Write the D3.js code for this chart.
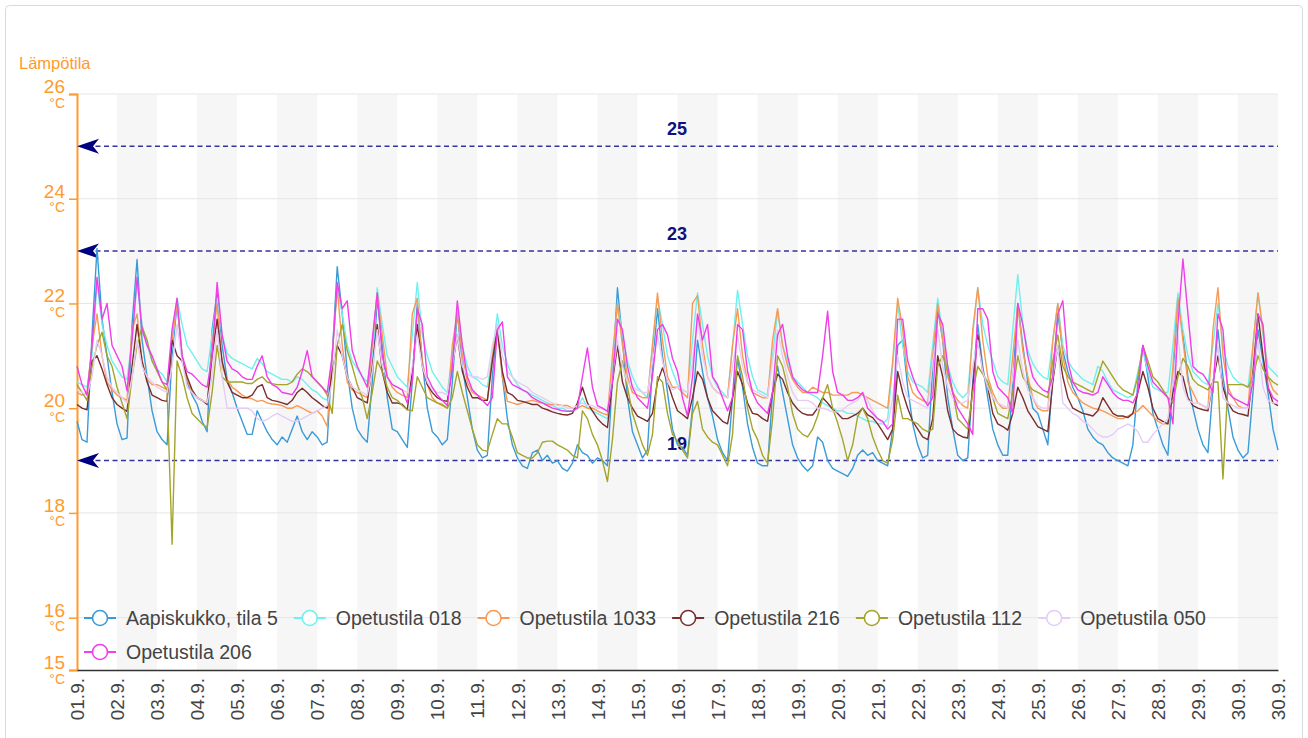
<!DOCTYPE html>
<html><head><meta charset="utf-8">
<script src="https://cdn.jsdelivr.net/npm/d3@7"></script>
<style>
body{margin:0;background:#fff;}
svg{display:block;font-family:"Liberation Sans",Arial,sans-serif;}
</style>
</head><body>
<svg id="chart" width="1308" height="738"></svg>
<script>
// ---------------- data ----------------
const yAxisTitle = "Lämpötila";
const unit = "°C";
const yTicks = [26, 24, 22, 20, 18, 16, 15];
const xTickLabels = ["01.9.","02.9.","03.9.","04.9.","05.9.","06.9.","07.9.","08.9.","09.9.","10.9.",
  "11.9.","12.9.","13.9.","14.9.","15.9.","16.9.","17.9.","18.9.","19.9.","20.9.",
  "21.9.","22.9.","23.9.","24.9.","25.9.","26.9.","27.9.","28.9.","29.9.","30.9.","30.9."];
const refLines = [25, 23, 19];
const seriesNames = ["Aapiskukko, tila 5","Opetustila 018","Opetustila 1033","Opetustila 216","Opetustila 112","Opetustila 050","Opetustila 206"];
const seriesColors = ["#3A9BD8","#6FF0EE","#F79A55","#7A2E2E","#A3A52B","#E5CCF5","#F03EEA"];
const stepHours = 3; // one value every 3 hours, from 01.09. 00:00

const aapiskukko = [
19.75,19.4,19.35,21.4,23.05,21.7,21.0,20.3, 19.7,19.4,19.43,21.6,22.84,21.3,20.6,19.95,
19.55,19.4,19.3,21.0,22.0,21.0,20.5,20.25, 20.07,19.75,19.55,21.5,22.2,21.2,20.55,20.3,
20.0,19.75,19.5,19.5,19.95,19.75,19.55,19.4, 19.3,19.45,19.35,19.6,19.85,19.55,19.4,19.55,
19.45,19.3,19.35,21.0,22.7,21.8,20.7,20.0, 19.6,19.45,19.35,20.5,22.1,21.2,20.2,19.6,
19.55,19.4,19.25,20.5,22.0,20.9,20.0,19.55, 19.45,19.3,19.4,20.5,21.85,20.8,20.2,19.6,
19.2,19.05,19.1,20.6,21.6,20.6,19.8,19.3, 19.05,18.9,18.85,19.15,19.2,19.0,19.1,18.95,
19.0,18.85,18.8,18.95,19.3,19.15,19.1,18.95, 19.05,19.0,18.9,20.6,22.3,21.3,20.2,19.55,
19.3,19.05,19.2,20.8,21.9,21.0,20.3,19.6, 19.3,19.25,19.1,20.0,21.3,20.7,20.2,19.85,
19.4,19.15,19.0,20.2,20.95,20.4,19.7,19.25, 18.95,18.9,18.9,20.3,20.8,20.3,19.8,19.3,
19.05,18.9,18.8,18.9,19.45,19.35,19.0,18.85, 18.8,18.75,18.7,18.85,19.1,19.2,19.1,19.15,
19.0,18.95,18.9,19.6,21.2,21.3,20.4,19.7, 19.3,19.05,19.1,20.8,21.9,21.3,20.2,19.6,
19.1,19.0,19.05,20.5,21.6,20.8,20.2,19.6, 19.3,19.1,19.1,20.5,22.0,21.2,20.5,20.0,
19.9,19.6,19.3,20.6,21.8,21.1,20.7,20.4, 20.2,19.95,19.6,19.45,19.35,19.3,19.15,19.05,
19.0,18.95,18.9,19.3,20.5,21.2,20.6,19.9, 19.6,19.3,19.1,20.5,22.15,21.4,20.6,20.0,
19.6,19.3,19.15,20.4,21.5,20.6,20.0,19.45, 19.2,19.05,19.15,20.3,21.5,20.9,20.3,19.6,
19.2];
const opetustila018 = [
20.5,20.45,20.4,21.0,22.4,21.6,21.2,20.9, 20.75,20.6,20.55,21.3,22.4,21.6,21.2,20.9,
20.75,20.65,20.5,21.2,22.1,21.6,21.2,21.05, 20.9,20.75,20.7,21.4,22.1,21.4,21.05,20.95,
20.9,20.85,20.8,20.75,20.95,20.85,20.7,20.65, 20.6,20.55,20.55,20.5,20.6,20.55,20.45,20.35,
20.3,20.2,20.15,21.0,22.3,21.8,21.2,20.9, 20.75,20.6,20.5,21.0,22.3,21.6,21.0,20.8,
20.6,20.5,20.4,21.4,22.4,21.4,21.0,20.7, 20.55,20.4,20.3,21.0,21.85,21.2,20.8,20.6,
20.55,20.45,20.4,21.0,21.8,21.2,20.85,20.6, 20.45,20.35,20.3,20.25,20.2,20.15,20.1,20.05,
20.0,20.0,19.95,19.95,20.0,20.2,20.0,19.95, 19.9,19.85,19.8,20.8,22.0,21.4,20.9,20.6,
20.4,20.3,20.2,21.2,22.1,21.6,21.0,20.7, 20.45,20.35,20.3,21.3,22.2,21.6,21.0,20.6,
20.4,20.3,20.2,21.2,22.25,21.6,21.0,20.6, 20.35,20.3,20.25,21.0,21.85,21.2,20.9,20.6,
20.5,20.4,20.3,20.25,20.2,20.1,20.05,20.0, 19.95,19.95,19.9,19.9,19.85,19.8,19.75,19.75,
19.7,19.7,19.8,20.8,22.0,21.2,20.7,20.5, 20.45,20.4,20.3,21.2,22.1,21.4,20.8,20.5,
20.3,20.2,20.3,21.4,22.3,21.6,21.2,20.9, 20.6,20.5,20.45,21.5,22.55,21.6,21.1,20.85,
20.7,20.6,20.55,21.3,22.0,21.2,20.9,20.75, 20.65,20.55,20.5,20.45,20.8,20.7,20.5,20.35,
20.3,20.25,20.2,20.25,20.7,21.1,20.7,20.4, 20.35,20.3,20.3,21.2,22.2,21.5,21.0,20.7,
20.6,20.5,20.45,21.2,22.0,21.2,20.8,20.6, 20.5,20.45,20.4,21.2,22.2,21.4,20.8,20.7,
20.6];
const opetustila1033 = [
20.3,20.25,20.3,21.2,21.8,21.0,20.5,20.35, 20.25,20.2,20.15,21.5,21.8,20.9,20.55,20.45,
20.45,20.4,20.35,21.3,22.0,21.0,20.55,20.3, 20.2,20.15,20.1,21.2,22.0,20.8,20.55,20.4,
20.33,20.25,20.2,20.18,20.13,20.15,20.1,20.08, 20.07,20.05,20.0,20.0,20.05,20.0,19.95,19.9,
19.95,19.85,19.65,21.0,22.3,21.2,20.5,20.35, 20.3,20.25,20.2,21.2,22.2,21.4,20.6,20.4,
20.3,20.25,20.2,21.8,22.1,20.9,20.45,20.2, 20.1,20.05,20.0,21.2,21.8,21.0,20.5,20.3,
20.25,20.2,20.15,21.0,21.5,20.6,20.13,20.1, 20.07,20.1,20.13,20.15,20.12,20.1,20.07,20.07,
20.07,20.05,20.05,20.0,20.0,20.05,20.0,20.0, 19.95,19.9,19.87,21.0,22.0,21.2,20.6,20.3,
20.25,20.2,20.2,21.2,22.2,21.3,20.6,20.4, 20.4,20.3,20.2,22.0,22.15,21.2,20.6,20.4,
20.3,20.25,20.2,21.2,21.9,21.0,20.5,20.3, 20.25,20.2,20.2,21.3,21.9,21.2,20.8,20.55,
20.4,20.3,20.3,20.4,20.35,20.3,20.3,20.25, 20.25,20.25,20.25,20.3,20.3,20.25,20.2,20.15,
20.1,20.05,20.0,20.9,22.1,21.5,20.6,20.3, 20.2,20.15,20.1,21.0,22.0,21.3,20.6,20.3,
20.15,20.05,20.0,21.5,22.3,21.3,20.6,20.3, 20.1,20.0,20.0,21.0,22.0,21.1,20.6,20.2,
20.0,19.95,19.95,21.3,22.0,21.0,20.5,20.3, 20.2,20.1,20.05,20.0,19.98,19.95,19.9,19.85,
19.8,19.8,19.85,19.9,19.95,20.05,19.95,19.85, 19.75,19.7,19.7,20.8,22.1,21.3,20.5,20.3,
20.1,20.05,20.0,21.5,22.3,21.0,20.4,20.2, 20.05,20.0,20.0,21.2,22.2,21.5,20.6,20.35,
20.25];
const opetustila216 = [
20.07,20.0,19.97,20.9,21.0,20.75,20.45,20.2, 20.07,20.0,19.94,20.8,21.6,20.9,20.5,20.25,
20.2,20.15,20.13,21.3,21.0,20.9,20.6,20.35, 20.2,20.15,20.07,21.0,21.7,20.9,20.5,20.3,
20.25,20.2,20.2,20.25,20.4,20.45,20.2,20.15, 20.13,20.1,20.07,20.15,20.3,20.38,20.3,20.2,
20.13,20.05,20.0,20.7,21.2,21.0,20.6,20.4, 20.2,20.15,20.1,20.8,21.6,20.7,20.3,20.1,
20.1,20.07,19.97,20.7,21.6,20.8,20.45,20.3, 20.2,20.15,20.13,20.8,21.4,20.7,20.4,20.2,
20.2,20.15,20.15,20.9,21.5,20.7,20.3,20.25, 20.15,20.13,20.1,20.07,20.07,20.0,19.97,19.93,
19.9,19.88,19.87,19.9,20.1,20.4,20.1,19.95, 19.8,19.7,19.63,20.5,21.2,20.5,20.2,20.0,
19.85,19.8,19.75,19.9,20.5,20.77,20.5,20.2, 19.95,19.88,19.8,20.2,20.7,20.55,20.2,19.95,
19.85,19.75,19.7,20.2,20.7,20.45,20.1,19.9, 19.88,19.8,19.75,20.3,20.65,20.55,20.3,20.1,
19.98,19.9,19.87,19.87,20.0,20.2,20.1,19.98, 19.9,19.8,19.8,19.85,19.9,20.0,19.87,19.82,
19.7,19.55,19.4,19.6,20.7,20.3,20.0,19.75, 19.6,19.45,19.4,19.8,21.0,20.6,19.95,19.6,
19.5,19.45,19.43,20.4,21.4,20.7,20.4,19.9, 19.7,19.65,19.58,19.9,20.4,20.2,19.95,19.8,
19.65,19.6,19.55,20.5,21.2,20.6,20.2,20.0, 19.95,19.9,19.88,19.85,19.95,20.2,20.05,19.9,
19.85,19.85,19.82,19.9,20.3,20.7,20.4,20.0, 19.8,19.75,19.7,20.3,20.7,20.6,20.2,20.05,
20.0,19.97,19.95,20.5,21.0,20.4,20.1,19.95, 19.9,19.88,19.85,20.7,21.8,21.0,20.4,20.1,
20.05];
const opetustila112 = [
20.45,20.3,20.15,20.8,21.2,21.45,21.0,20.8, 20.4,20.1,19.8,20.6,21.2,21.55,21.3,20.9,
20.7,20.5,20.35,17.4,20.9,20.6,20.2,19.9, 19.8,19.7,19.63,20.3,21.2,20.6,20.5,20.5,
20.5,20.5,20.47,20.47,20.55,20.6,20.5,20.47, 20.45,20.45,20.45,20.5,20.65,20.75,20.7,20.6,
20.5,20.4,20.25,19.9,21.2,21.6,21.1,20.8, 20.45,20.2,19.8,20.3,20.9,20.7,20.4,20.2,
20.15,20.05,19.97,19.95,20.6,20.4,20.2,20.15, 20.1,20.07,20.0,20.2,20.7,20.3,19.95,19.6,
19.3,19.2,19.18,19.5,19.8,19.7,19.7,19.45, 19.15,19.1,19.05,19.05,19.15,19.35,19.37,19.37,
19.3,19.25,19.2,19.1,19.05,19.95,19.8,19.5, 19.3,19.0,18.6,19.4,20.5,20.9,20.4,19.9,
19.6,19.3,19.1,19.5,20.6,20.5,19.9,19.5, 19.37,19.2,19.05,19.9,20.13,19.6,19.45,19.35,
19.3,19.1,18.9,19.5,21.0,20.6,20.0,19.6, 19.4,19.1,18.95,19.8,21.0,20.8,20.4,19.9,
19.6,19.5,19.45,19.6,19.85,20.2,20.45,20.0, 19.72,19.4,19.0,19.3,19.84,20.0,19.8,19.45,
19.2,19.0,18.95,19.4,20.25,19.8,19.8,19.75, 19.7,19.6,19.55,19.6,20.8,21.0,20.7,20.3,
19.8,19.7,19.6,20.3,20.8,20.65,20.5,20.2, 19.9,19.85,19.8,20.3,21.0,20.6,20.45,20.35,
20.3,20.25,20.2,20.9,21.4,20.8,20.6,20.5, 20.45,20.4,20.35,20.3,20.6,20.9,20.75,20.6,
20.45,20.35,20.3,20.25,20.6,21.2,20.9,20.6, 20.5,20.35,20.2,20.1,20.6,20.95,20.8,20.55,
20.45,20.4,20.35,20.5,20.5,18.65,20.45,20.45, 20.45,20.45,20.4,20.6,21.0,20.75,20.6,20.5,
20.44];
const opetustila050 = [
20.35,20.3,20.25,20.6,21.3,21.0,20.6,20.4, 20.3,20.2,20.1,20.6,21.3,20.8,20.6,20.5,
20.4,20.35,20.3,20.8,21.6,20.9,20.4,20.3, 20.2,20.15,20.1,20.6,21.5,20.6,20.0,20.0,
20.0,20.0,20.0,19.95,19.8,19.75,19.78,19.85, 19.9,19.85,19.8,19.75,19.75,19.8,19.85,19.9,
19.95,20.0,20.05,20.5,21.5,21.0,20.6,20.4, 20.35,20.3,20.25,20.7,21.5,20.8,20.6,20.45,
20.4,20.35,20.3,20.8,21.4,20.8,20.5,20.35, 20.3,20.3,20.25,20.8,21.4,20.8,20.65,20.6,
20.6,20.55,20.6,21.2,21.6,21.0,20.7,20.6, 20.5,20.45,20.4,20.3,20.25,20.2,20.15,20.1,
20.05,20.05,20.0,20.0,20.05,20.1,20.05,20.05, 20.0,20.0,19.95,20.6,21.3,20.8,20.5,20.4,
20.35,20.3,20.3,20.9,21.4,20.9,20.5,20.35, 20.4,20.35,20.3,20.9,21.7,21.0,20.6,20.4,
20.3,20.25,20.2,20.8,21.4,20.8,20.5,20.35, 20.3,20.25,20.2,20.9,21.5,21.0,20.6,20.3,
20.15,20.15,20.15,20.1,20.0,20.0,19.97,19.93, 19.93,19.97,20.05,20.1,20.15,20.3,20.15,19.95,
19.8,19.7,19.65,20.2,21.0,20.5,20.2,20.15, 20.1,20.05,20.0,20.9,21.5,20.8,20.4,20.2,
20.1,20.1,20.15,20.8,21.3,20.7,20.4,20.2, 20.1,20.05,20.0,20.6,21.3,20.7,20.35,20.2,
20.05,20.0,20.0,20.6,21.2,20.1,20.0,19.9, 19.85,19.75,19.7,19.6,19.5,19.45,19.45,19.5,
19.6,19.65,19.7,19.65,19.55,19.35,19.35,19.5, 19.6,19.7,19.8,20.5,21.4,20.4,20.15,20.1,
20.1,20.05,20.0,20.5,21.2,20.2,20.1,20.05, 20.0,20.0,20.0,20.6,21.3,20.4,20.15,20.1,
20.1];
const opetustila206 = [
20.8,20.45,20.25,21.2,22.5,21.7,22.0,21.2, 21.0,20.8,20.33,21.3,22.5,21.5,21.2,21.0,
20.75,20.5,20.45,21.5,22.1,21.0,20.7,20.65, 20.55,20.45,20.4,21.0,22.4,21.4,20.9,20.75,
20.7,20.6,20.55,20.55,20.8,21.0,20.6,20.45, 20.4,20.3,20.28,20.26,20.4,20.7,21.1,20.6,
20.5,20.4,20.3,21.0,22.4,21.9,22.05,21.1, 20.8,20.6,20.4,21.3,22.2,21.0,20.6,20.45,
20.4,20.35,20.1,20.5,21.9,21.6,20.6,20.4, 20.25,20.15,20.05,20.8,22.05,21.2,20.6,20.35,
20.25,20.15,20.05,20.2,21.5,21.65,20.6,20.45, 20.4,20.35,20.3,20.2,20.15,20.1,20.05,20.0,
19.98,19.95,19.94,19.94,20.0,20.6,21.15,20.4, 20.05,20.0,19.94,20.5,21.7,21.5,20.8,20.4,
20.2,20.1,20.0,20.6,21.5,21.6,21.4,20.95, 20.7,20.2,19.85,20.6,21.8,21.3,21.6,20.6,
20.45,20.2,19.95,20.2,21.6,21.5,20.7,20.3, 20.1,20.0,19.9,20.3,21.4,21.6,21.0,20.6,
20.45,20.35,20.3,20.3,20.3,21.0,21.85,20.7, 20.3,20.25,20.15,20.15,20.2,20.3,20.0,19.9,
19.8,19.75,19.6,19.7,21.7,21.7,20.9,20.6, 20.35,20.2,20.05,20.2,21.8,21.6,20.8,20.3,
20.0,19.85,19.7,19.5,21.9,21.9,21.7,20.7, 20.4,20.3,20.2,19.9,22.0,21.6,21.0,20.6,
20.45,20.35,20.3,20.6,21.8,22.05,20.9,20.5, 20.35,20.3,20.28,20.25,20.3,20.6,20.45,20.3,
20.2,20.15,20.15,20.1,20.3,21.2,20.8,20.5, 20.4,20.3,20.2,19.7,21.6,22.85,21.8,20.8,
20.7,20.65,20.5,20.3,21.8,21.5,20.3,20.2, 20.15,20.1,20.05,20.5,21.8,21.6,20.4,20.2,
20.13];
const seriesValues = [aapiskukko, opetustila018, opetustila1033, opetustila216, opetustila112, opetustila050, opetustila206];

// ---------------- chart ----------------
(function () {
const svg = d3.select("#chart");
const W = 1308, H = 738;
const pLeft = 77, pRight = 1278, pTop = 94, pBottom = 670;
const axisColor = "#FF9A2E";
const start = new Date(Date.UTC(2020, 8, 1));
const end = new Date(Date.UTC(2020, 9, 1));

// card
svg.append("rect").attr("x", 5.5).attr("y", 5.5).attr("width", W - 11).attr("height", H + 20)
  .attr("rx", 4).attr("fill", "#fff").attr("stroke", "#dadada");

const x = d3.scaleUtc().domain([start, end]).range([pLeft, pRight]);
const y = d3.scaleLinear().domain([15, 26]).range([pBottom, pTop]);

const days = d3.utcDay.range(start, d3.utcDay.offset(end, 1));

// alternating day bands
svg.append("g").selectAll("rect").data(days.slice(0, -1).filter((d, i) => i % 2 === 1))
  .join("rect")
  .attr("x", d => x(d)).attr("y", pTop)
  .attr("width", d => x(d3.utcDay.offset(d, 1)) - x(d)).attr("height", pBottom - pTop)
  .attr("fill", "#f6f6f6");

// horizontal grid
svg.append("g").selectAll("line").data(yTicks.filter(v => v !== 15)).join("line")
  .attr("x1", pLeft).attr("x2", pRight).attr("y1", d => y(d)).attr("y2", d => y(d))
  .attr("stroke", "#e6e6e6").attr("stroke-width", 1);

// y axis
const yAxis = svg.append("g").attr("transform", `translate(${pLeft},0)`)
  .call(d3.axisLeft(y).tickValues(yTicks).tickSize(8).tickFormat(""));
yAxis.select(".domain").attr("stroke", axisColor).attr("stroke-width", 2);
yAxis.selectAll(".tick line").attr("stroke", axisColor).attr("stroke-width", 1.5);
const yl = svg.append("g").attr("fill", axisColor).attr("text-anchor", "end");
yTicks.forEach(v => {
  yl.append("text").attr("x", 65).attr("y", y(v) - 1).style("font-size", "19px").text(v);
  yl.append("text").attr("x", 65).attr("y", y(v) + 13.5).style("font-size", "14px").text(unit);
});
svg.append("text").attr("x", 19).attr("y", 69).attr("fill", axisColor)
  .style("font-size", "16.5px").text(yAxisTitle);

// x axis
const xAxis = svg.append("g").attr("transform", `translate(0,${pBottom})`)
  .call(d3.axisBottom(x).tickValues(days).tickSize(0).tickFormat((d, i) => xTickLabels[i]));
xAxis.select(".domain").attr("stroke", "#333").attr("stroke-width", 1.5);
xAxis.selectAll(".tick text")
  .attr("transform", "rotate(-90)")
  .attr("text-anchor", "end")
  .attr("x", -8).attr("y", 0).attr("dy", "0.35em")
  .attr("fill", "#444")
  .style("font-size", "19px")
  .style("font-family", "Liberation Sans, Arial, sans-serif");

// reference lines
const refColor = "#12128a";
const refG = svg.append("g");
refLines.forEach(v => {
  const yy = y(v);
  refG.append("line").attr("x1", pLeft + 10).attr("x2", pRight).attr("y1", yy).attr("y2", yy)
    .attr("stroke", refColor).attr("stroke-width", 1.5).attr("stroke-dasharray", "5,3.5")
    .attr("opacity", 0.85);
  refG.append("path")
    .attr("d", `M${pLeft},${yy} L${pLeft + 22},${yy - 7.5} L${pLeft + 16},${yy} L${pLeft + 22},${yy + 7.5} Z`)
    .attr("fill", "#000080");
  refG.append("text").attr("x", 677).attr("y", yy - 11).attr("text-anchor", "middle")
    .attr("fill", "#10107f").style("font-size", "18px").style("font-weight", "bold").text(v);
});

// series
const times = d3.range(aapiskukko.length).map(i => d3.utcHour.offset(start, i * stepHours));
const line = d3.line().x((d, i) => x(times[i])).y(d => y(d));
svg.append("g").selectAll("path").data(seriesValues).join("path")
  .attr("d", d => line(d)).attr("fill", "none")
  .attr("stroke", (d, i) => seriesColors[i]).attr("stroke-width", 1.4)
  .attr("stroke-linejoin", "round");

// legend
const lg = svg.append("g");
let lx = 84, ly = 618;
seriesNames.forEach((name, i) => {
  const g = lg.append("g");
  const txt = g.append("text").attr("x", 42).attr("y", 7).attr("fill", "#444")
    .style("font-size", "19.5px").text(name);
  const w = txt.node().getComputedTextLength();
  if (lx + 42 + w > pRight) { lx = 84; ly += 34; }
  g.attr("transform", `translate(${lx},${ly})`);
  g.insert("line", "text").attr("x1", 0).attr("x2", 32).attr("y1", 0).attr("y2", 0)
    .attr("stroke", seriesColors[i]).attr("stroke-width", 2);
  g.insert("circle", "text").attr("cx", 16).attr("cy", 0).attr("r", 7.5)
    .attr("fill", "#fff").attr("stroke", seriesColors[i]).attr("stroke-width", 1.6);
  lx += 42 + w + 16;
});
})();
</script>
</body></html>
